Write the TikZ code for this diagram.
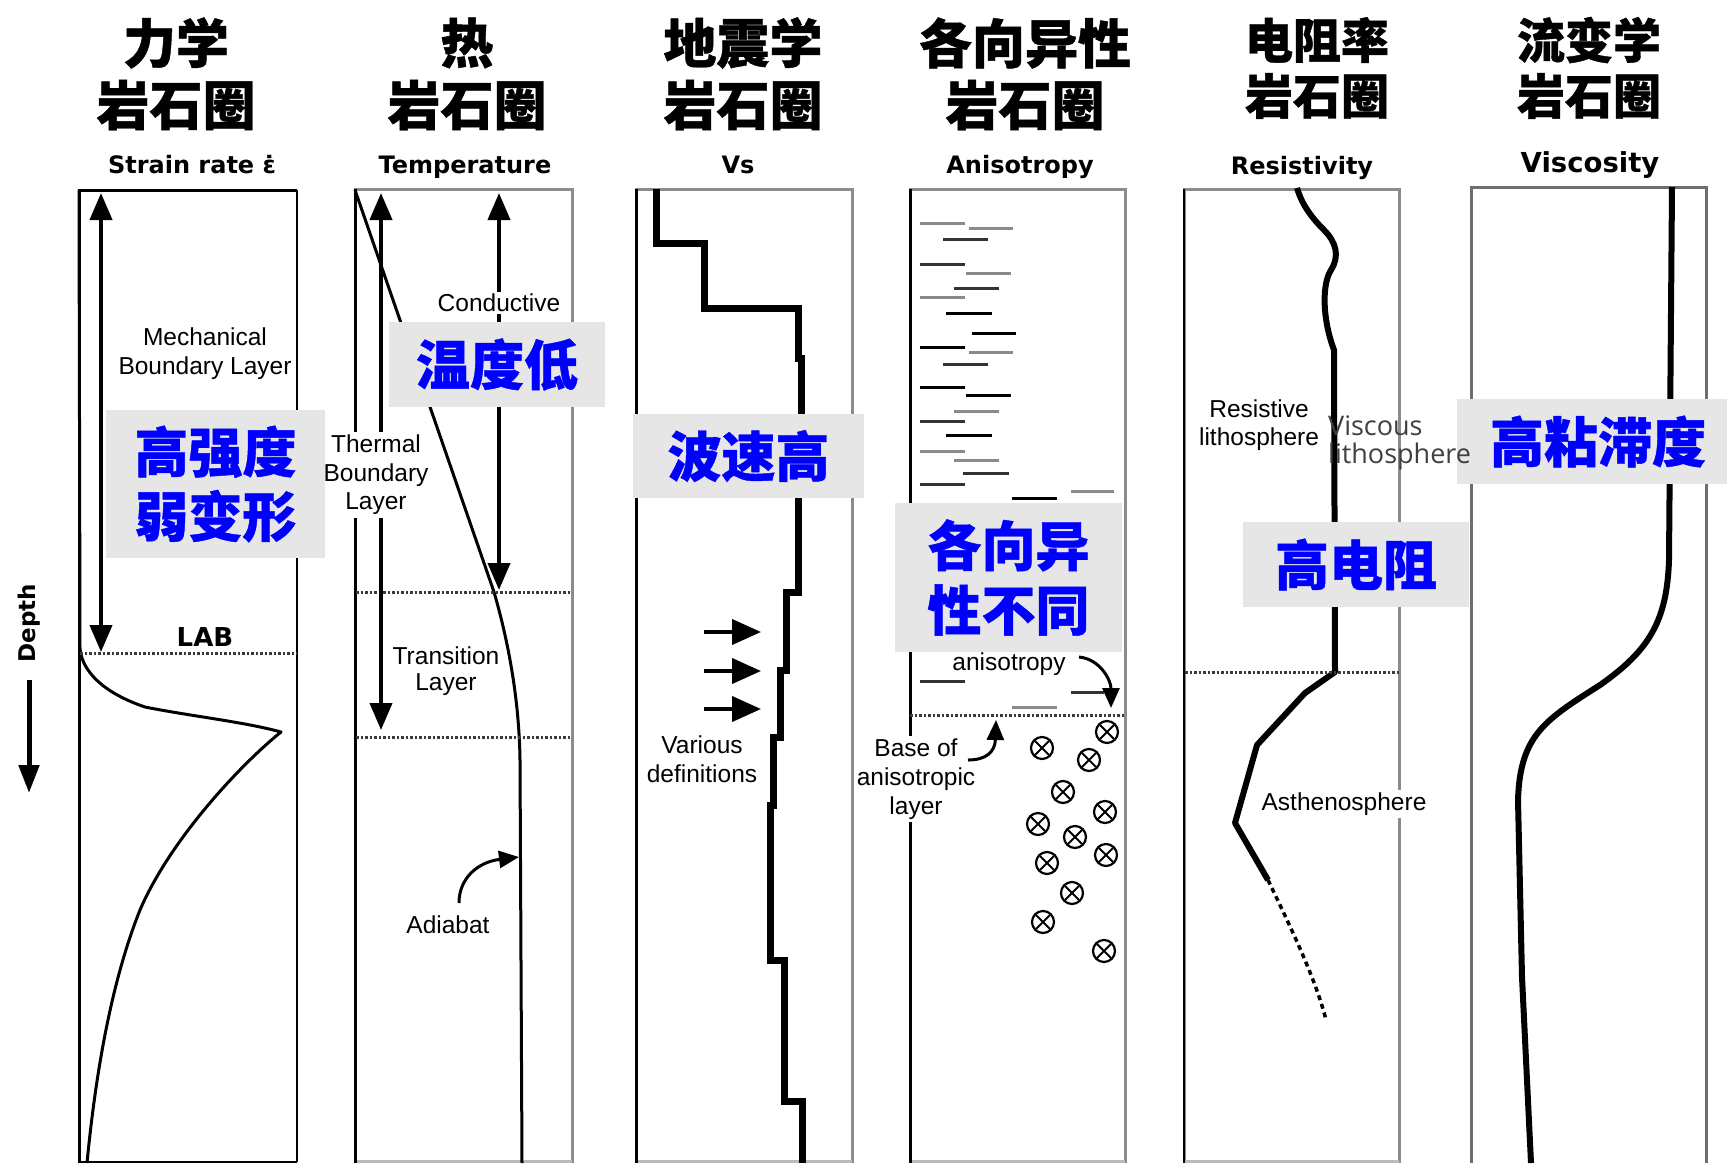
\documentclass[tikz,border=0pt]{standalone}
\usepackage{fontspec}
\setmainfont{Liberation Sans}
\newfontfamily\cjk{Noto Sans CJK SC}[BoldFeatures={FakeBold=0.8}]
\newfontfamily\dvs{DejaVu Sans}
\newfontfamily\osans{Open Sans}
\usetikzlibrary{arrows.meta}
\definecolor{boxgray}{HTML}{E6E6E6}
\definecolor{cblue}{HTML}{0000FF}
\definecolor{bgray}{HTML}{8C8C8C}
\definecolor{pgray}{HTML}{6E6E6E}
\definecolor{dotgray}{HTML}{3A3A3A}
\definecolor{lgray}{HTML}{8A8A8A}
\definecolor{dgray}{HTML}{333333}
\definecolor{botgray}{HTML}{BBBBBB}
\definecolor{vgray}{HTML}{404040}
\begin{document}
\begin{tikzpicture}[x=1pt,y=-1pt,
  pborder/.style={draw=bgray,line width=3pt},
  ledge/.style={draw=black,line width=3pt},
  dotline/.style={draw=dotgray,line width=3pt,dash pattern=on 2.5pt off 2pt},
  thincurve/.style={draw=black,line width=3pt,line join=round},
  bluebox/.style={fill=boxgray,inner sep=0pt,text=cblue,align=center,font=\cjk\bfseries\fontsize{54}{64.5}\selectfont},
  hdbig/.style={inner sep=0pt,font=\cjk\bfseries\fontsize{53}{60}\selectfont},
  hdsmall/.style={inner sep=0pt,font=\cjk\bfseries\fontsize{48}{56}\selectfont},
  subttl/.style={inner sep=0pt,anchor=base,font=\dvs\bfseries\fontsize{24}{28}\selectfont},
  lbl/.style={inner sep=0pt,align=center,font=\fontsize{24.5}{28.5}\selectfont},
  wlbl/.style={lbl,fill=white,inner sep=3pt},
  dblarrow/.style={line width=4pt,{Triangle[length=27pt,width=22pt]}-{Triangle[length=27pt,width=22pt]}},
  harrow/.style={line width=4pt,-{Triangle[length=29pt,width=25pt]}},
  carrow/.style={line width=3pt,-{Triangle[length=20pt,width=17pt]}},
  otimes/.pic={\draw[line width=2.2pt] (0,0) circle[radius=11pt];
               \draw[line width=2pt] (-7,-7) -- (7,7) (-7,7) -- (7,-7);}
]
\useasboundingbox (0,0) rectangle (1727,1163);
\fill[white] (0,0) rectangle (1727,1163);

% ---------------- panel frames ----------------
% P1 (strain rate)
\draw[line width=2pt] (297,190) -- (297,1162);
\draw[line width=3pt] (79,1163) -- (79,190) -- (297,190);
\draw[line width=2pt] (79,1162) -- (297,1162);
% P2 (temperature)
\draw[pborder] (355,1163) -- (355,189) -- (572,189) -- (572,1163);
\draw[draw=botgray,line width=3pt] (355,1161) -- (572,1161);
\draw[ledge] (355,189) -- (355,1163);
% P3 (Vs)
\draw[pborder] (636,1163) -- (636,189) -- (852,189) -- (852,1163);
\draw[draw=botgray,line width=3pt] (636,1161) -- (852,1161);
\draw[ledge] (636,189) -- (636,1163);
% P4 (anisotropy)
\draw[pborder] (910,1163) -- (910,189) -- (1125,189) -- (1125,1163);
\draw[draw=botgray,line width=3pt] (910,1161) -- (1125,1161);
\draw[ledge] (910,189) -- (910,1163);
% P5 (resistivity)
\draw[pborder] (1184,1163) -- (1184,189) -- (1399,189) -- (1399,1163);
\draw[draw=botgray,line width=3pt] (1184,1161) -- (1399,1161);
\draw[draw=black,line width=2.5pt] (1184,189) -- (1184,1163);
% P6 (viscosity)
\draw[draw=pgray,line width=3pt] (1471,1163) -- (1471,187) -- (1706,187) -- (1706,1163);

% ---------------- P1 content ----------------
\draw[thincurve] (79,190) -- (80,648) .. controls (81,665) and (95,690) .. (145,707)
  .. controls (190,716) and (245,722) .. (281,732)
  .. controls (240,765) and (170,840) .. (140,910)
  .. controls (110,985) and (95,1080) .. (87,1163);
\draw[dotline] (80,653) -- (297,653);
\coordinate (a1t) at (101,193);
\coordinate (a1b) at (101,652);
\draw[dblarrow] (a1t) -- (a1b);
\node[lbl,font=\fontsize{24.5}{29}\selectfont] (mbl) at (205,354) {Mechanical\\Boundary Layer};
\node[inner sep=0pt,font=\dvs\bfseries\fontsize{26}{30}\selectfont] (lab) at (205,637) {LAB};
% depth
\node[inner sep=0pt,rotate=90,font=\dvs\bfseries\fontsize{23}{27}\selectfont] (depth) at (29,623) {Depth};
\coordinate (d1) at (29,680);
\coordinate (d2) at (29,793);
\draw[line width=5pt,-{Triangle[length=28pt,width=20pt]}] (d1) -- (d2);

% ---------------- P2 content ----------------
\draw[thincurve] (355,190) -- (494,592) .. controls (505,630) and (519,690) .. (520,760) -- (522,1163);
\draw[dotline] (356,592) -- (572,592);
\draw[dotline] (356,737) -- (572,737);
\coordinate (a2t) at (381,193);
\coordinate (a2b) at (381,730);
\draw[dblarrow] (a2t) -- (a2b);
\coordinate (a3t) at (499,193);
\coordinate (a3b) at (499,590);
\draw[dblarrow] (a3t) -- (a3b);
\node[wlbl,inner sep=2pt] (cond) at (499,303) {Conductive};
\node[wlbl,font=\fontsize{24.5}{28.5}\selectfont] (tbl) at (376,475) {Thermal\\Boundary\\Layer};
\node[lbl,font=\fontsize{24.5}{26}\selectfont] (trl) at (446,671) {Transition\\Layer};
\node[lbl] (adia) at (448,925) {Adiabat};
\coordinate (ad1) at (459,903);
\coordinate (ad2) at (519,857);
\draw[carrow] (ad1) .. controls (459,878) and (478,862) .. (ad2);

% ---------------- P3 content ----------------
\draw[line width=7pt,line join=miter] (656,189) -- (656,243) -- (704,243) -- (704,308) -- (798,308)
  -- (798,358) -- (801,358) -- (801,480) -- (798,480) -- (798,592) -- (786,592) -- (786,670)
  -- (780,670) -- (780,737) -- (773,737) -- (773,805) -- (770,805) -- (770,960) -- (784,960)
  -- (784,1101) -- (802,1101) -- (802,1163);
\foreach \yy [count=\i] in {632,671,709}{
  \coordinate (va\i) at (704,\yy);
  \coordinate (vb\i) at (761,\yy);
  \draw[harrow] (va\i) -- (vb\i);
}
\node[lbl,font=\fontsize{24.5}{29}\selectfont] (vdef) at (702,759) {Various\\definitions};

% ---------------- P4 content ----------------
\foreach \xa/\xb/\yy/\cc in {920/965/223/lgray, 969/1013/228/lgray, 943/988/239/dgray,
  920/965/264/dgray, 966/1011/273/lgray, 954/999/288/dgray, 920/965/297/lgray,
  946/992/313/black, 972/1016/333/black, 920/965/347/black, 969/1013/352/lgray,
  943/988/364/dgray, 920/965/387/black, 966/1011/395/black, 954/999/411/lgray,
  920/965/421/dgray, 946/992/435/black, 920/965/451/lgray, 954/999/460/lgray,
  963/1009/473/dgray, 920/965/484/dgray, 1071/1114/491/lgray, 1012/1057/498/black,
  920/965/681/dgray, 1071/1104/692/dgray, 1012/1057/707/lgray}{
  \draw[line width=3pt,draw=\cc] (\xa,\yy) -- (\xb,\yy);
}
\draw[dotline] (910,715) -- (1125,715);
\foreach \px/\py in {1107/732,1042/748,1089/760,1063/792,1105/812,1038/824,
  1075/837,1106/855,1047/863,1072/893,1043/922,1104/951}{
  \pic at (\px,\py) {otimes};
}
\node[lbl] (aniso) at (1009,664) {anisotropy};
\coordinate (an1) at (1079,657);
\coordinate (an2) at (1111,708);
\draw[carrow] (an1) .. controls (1100,659) and (1111,680) .. (an2);
\node[wlbl,font=\fontsize{24.5}{29}\selectfont] (base) at (916,779) {Base of\\anisotropic\\layer};
\coordinate (ba1) at (968,760);
\coordinate (ba2) at (996,720);
\draw[carrow] (ba1) .. controls (986,760) and (995,752) .. (ba2);

% ---------------- P5 content ----------------
\draw[line width=6pt,line join=round] (1297,188) .. controls (1302,205) and (1312,218) .. (1324,230)
  .. controls (1336,242) and (1340,256) .. (1331,270)
  .. controls (1322,284) and (1322,318) .. (1334,350)
  -- (1335,672) -- (1305,693) -- (1257,745) -- (1235,823) -- (1268,880);
\draw[line width=3.5pt,dash pattern=on 5pt off 4pt] (1268,880) .. controls (1292,930) and (1316,980) .. (1326,1020);
\draw[dotline] (1185,672) -- (1399,672);
\node[lbl,font=\fontsize{24.5}{28}\selectfont] (resl) at (1259,425) {Resistive\\lithosphere};
\node[wlbl] (asth) at (1344,804) {Asthenosphere};

% ---------------- P6 content ----------------
\draw[line width=6pt] (1672,187) -- (1669,560) .. controls (1667,620) and (1650,650) .. (1600,685)
  .. controls (1545,720) and (1520,735) .. (1518,800) -- (1522,977) -- (1531,1163);

% ---------------- grey boxes with blue text ----------------
\node[bluebox,minimum width=219pt,minimum height=148pt] (bx1) at (215.5,484) {高强度\\弱变形};
\node[bluebox,minimum width=216pt,minimum height=85pt] (bx2) at (497,364.5) {温度低};
\node[bluebox,minimum width=231pt,minimum height=84pt] (bx3) at (748.5,456) {波速高};
\node[bluebox,minimum width=227pt,minimum height=149pt] (bx4) at (1008.5,577.5) {各向异\\性不同};
\node[bluebox,minimum width=226pt,minimum height=85pt] (bx5) at (1356,564.5) {高电阻};
\node[bluebox,minimum width=270pt,minimum height=85pt,text width=270pt,align=center] (bx6) at (1592,441.5) {\hspace*{12pt}高粘滞度};

% text over box
\node[inner sep=0pt,anchor=west,align=left,text=vgray,font=\osans\fontsize{27}{27.5}\selectfont] (visl) at (1328,443) {Viscous\\lithosphere};

% ---------------- headings ----------------
\node[hdbig] (h1a) at (176,43) {力学};
\node[hdbig] (h1b) at (176,105) {岩石圈};
\node[hdbig] (h2a) at (467,43) {热};
\node[hdbig] (h2b) at (467,105) {岩石圈};
\node[hdbig] (h3a) at (743,43) {地震学};
\node[hdbig] (h3b) at (743,105) {岩石圈};
\node[hdbig] (h4a) at (1025,43) {各向异性};
\node[hdbig] (h4b) at (1025,105) {岩石圈};
\node[hdsmall] (h5a) at (1317,40) {电阻率};
\node[hdsmall] (h5b) at (1317,96) {岩石圈};
\node[hdsmall] (h6a) at (1589,40) {流变学};
\node[hdsmall] (h6b) at (1589,96) {岩石圈};

% ---------------- sub titles ----------------
\node[subttl] (s1) at (192,173) {Strain rate ε̇};
\node[subttl] (s2) at (465,173) {Temperature};
\node[subttl] (s3) at (738,173) {Vs};
\node[subttl] (s4) at (1020,173) {Anisotropy};
\node[subttl] (s5) at (1302,174) {Resistivity};
\node[subttl,font=\dvs\bfseries\fontsize{27.5}{30}\selectfont] (s6) at (1590,172) {Viscosity};
\end{tikzpicture}
\end{document}
